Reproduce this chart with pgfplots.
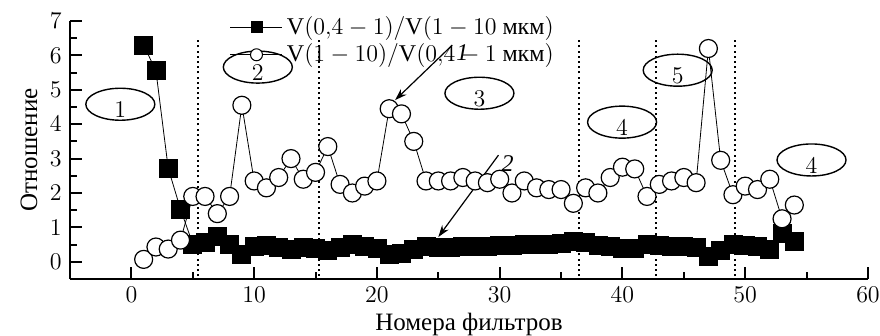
\documentclass[border=0pt,12pt]{standalone}
\usepackage{fontspec}
\setmainfont{Liberation Serif}
\usepackage{pgfplots}
\pgfplotsset{compat=1.18}
\usetikzlibrary{arrows.meta}
\begin{document}
\begin{tikzpicture}
\begin{axis}[
  scale only axis, width=399pt, height=129pt,
  xmin=-5, xmax=60, ymin=-0.5, ymax=7,
  axis x line*=bottom, axis y line*=left,
  axis line style={line width=1pt,-},
  xtick={0,10,...,60}, minor xtick={5,15,...,55},
  ytick={0,1,...,7}, minor ytick={0.5,1.5,...,6.5},
  tick align=inside,
  major tick length=6pt, minor tick length=3.5pt,
  tick style={line width=1pt, black},
  tick label style={font=\fontsize{12}{14}\selectfont},
  label style={font=\fontsize{12.5}{14}\selectfont},
  xlabel={Номера фильтров},
  ylabel={Отношение},
  xlabel style={yshift=3pt},
  ylabel style={yshift=-2pt},
  clip=false,
  legend style={at={(0.2,1.035)}, anchor=north west, draw=none, fill=none,
    font=\fontsize{12}{14}\selectfont, inner sep=0pt, row sep=-1pt},
  legend cell align=left,
]
\addplot[forget plot, black, line width=1pt, dash pattern=on 1pt off 1.6pt] coordinates {(5.4,-0.42) (5.4,6.45)};
\addplot[forget plot, black, line width=1pt, dash pattern=on 1pt off 1.6pt] coordinates {(15.3,-0.42) (15.3,6.45)};
\addplot[forget plot, black, line width=1pt, dash pattern=on 1pt off 1.6pt] coordinates {(36.5,-0.42) (36.5,6.45)};
\addplot[forget plot, black, line width=1pt, dash pattern=on 1pt off 1.6pt] coordinates {(42.7,-0.42) (42.7,6.45)};
\addplot[forget plot, black, line width=1pt, dash pattern=on 1pt off 1.6pt] coordinates {(49.2,-0.42) (49.2,6.45)};

\addplot[black, line width=0.4pt, mark=square*, mark size=4.5pt,
  mark options={solid, fill=black, draw=black},
  legend image code/.code={
    \draw[line width=0.5pt] (0pt,0pt) -- (26pt,0pt);
    \fill (13pt,0pt) +(-2.75pt,-2.75pt) rectangle +(2.75pt,2.75pt);}]
table {
x y
1 6.3
2 5.55
3 2.72
4 1.53
5 0.52
6 0.55
7 0.75
8 0.52
9 0.22
10 0.44
11 0.47
12 0.42
13 0.35
14 0.42
15 0.4
16 0.32
17 0.42
18 0.5
19 0.45
20 0.4
21 0.22
22 0.25
23 0.35
24 0.45
25 0.42
26 0.43
27 0.45
28 0.45
29 0.46
30 0.47
31 0.48
32 0.5
33 0.5
34 0.52
35 0.54
36 0.58
37 0.56
38 0.48
39 0.44
40 0.38
41 0.4
42 0.52
43 0.48
44 0.45
45 0.44
46 0.42
47 0.17
48 0.32
49 0.5
50 0.47
51 0.45
52 0.37
53 0.82
54 0.58
};
\addlegendentry{$\mathrm{V}(0{,}4-1)/\mathrm{V}(1-10$ мкм$)$}

\addplot[black, line width=0.4pt, mark=*, mark size=4.5pt,
  mark options={solid, fill=white, draw=black, line width=0.6pt},
  legend image code/.code={
    \draw[line width=0.5pt] (0pt,0pt) -- (26pt,0pt);
    \draw[fill=white, line width=0.5pt] (13pt,0pt) circle (3pt);}]
table {
x y
1 0.07
2 0.43
3 0.37
4 0.63
5 1.9
6 1.9
7 1.4
8 1.9
9 4.55
10 2.35
11 2.15
12 2.45
13 3.0
14 2.4
15 2.6
16 3.35
17 2.25
18 2.0
19 2.2
20 2.35
21 4.45
22 4.3
23 3.5
24 2.35
25 2.35
26 2.35
27 2.45
28 2.35
29 2.3
30 2.4
31 2.0
32 2.35
33 2.15
34 2.1
35 2.1
36 1.7
37 2.15
38 2.0
39 2.45
40 2.75
41 2.7
42 1.9
43 2.25
44 2.35
45 2.45
46 2.3
47 6.2
48 2.95
49 1.95
50 2.2
51 2.1
52 2.4
53 1.25
54 1.65
};
\addlegendentry{$\mathrm{V}(1-10)/\mathrm{V}(0{,}4-1$ мкм$)$}

\draw[line width=0.7pt] (axis cs:-0.9,4.58) ellipse (17.25pt and 8pt);
\node[font=\fontsize{12}{14}\selectfont] at ([yshift=-3pt]axis cs:-0.9,4.58) {$1$};
\draw[line width=0.7pt] (axis cs:10.3,5.66) ellipse (17.25pt and 8pt);
\node[font=\fontsize{12}{14}\selectfont] at ([yshift=-3pt]axis cs:10.3,5.66) {$2$};
\draw[line width=0.7pt] (axis cs:28.35,4.9) ellipse (17.25pt and 8pt);
\node[font=\fontsize{12}{14}\selectfont] at ([yshift=-3pt]axis cs:28.35,4.9) {$3$};
\draw[line width=0.7pt] (axis cs:39.97,4.06) ellipse (17.25pt and 8pt);
\node[font=\fontsize{12}{14}\selectfont] at ([yshift=-3pt]axis cs:39.97,4.06) {$4$};
\draw[line width=0.7pt] (axis cs:44.5,5.57) ellipse (17.25pt and 8pt);
\node[font=\fontsize{12}{14}\selectfont] at ([yshift=-3pt]axis cs:44.5,5.57) {$5$};
\draw[line width=0.7pt] (axis cs:55.4,2.96) ellipse (17.25pt and 8pt);
\node[font=\fontsize{12}{14}\selectfont] at ([yshift=-3pt]axis cs:55.4,2.96) {$4$};

\draw[-{Stealth[length=6pt,width=4pt]}, line width=0.6pt] (axis cs:26.14,6.30) -- (axis cs:21.48,4.70);
\node[font=\fontsize{12}{14}\selectfont\itshape] at (axis cs:26.96,6.09) {1};
\draw[-{Stealth[length=6pt,width=4pt]}, line width=0.6pt] (axis cs:29.9,3.10) -- (axis cs:25.0,0.72);
\node[font=\fontsize{12}{14}\selectfont\itshape] at (axis cs:30.64,2.87) {2};
\end{axis}
\pgfresetboundingbox
\path[use as bounding box] ([xshift=-35pt,yshift=-28.5pt]current axis.south west) rectangle ([xshift=6pt,yshift=10.5pt]current axis.north east);
\end{tikzpicture}
\end{document}
